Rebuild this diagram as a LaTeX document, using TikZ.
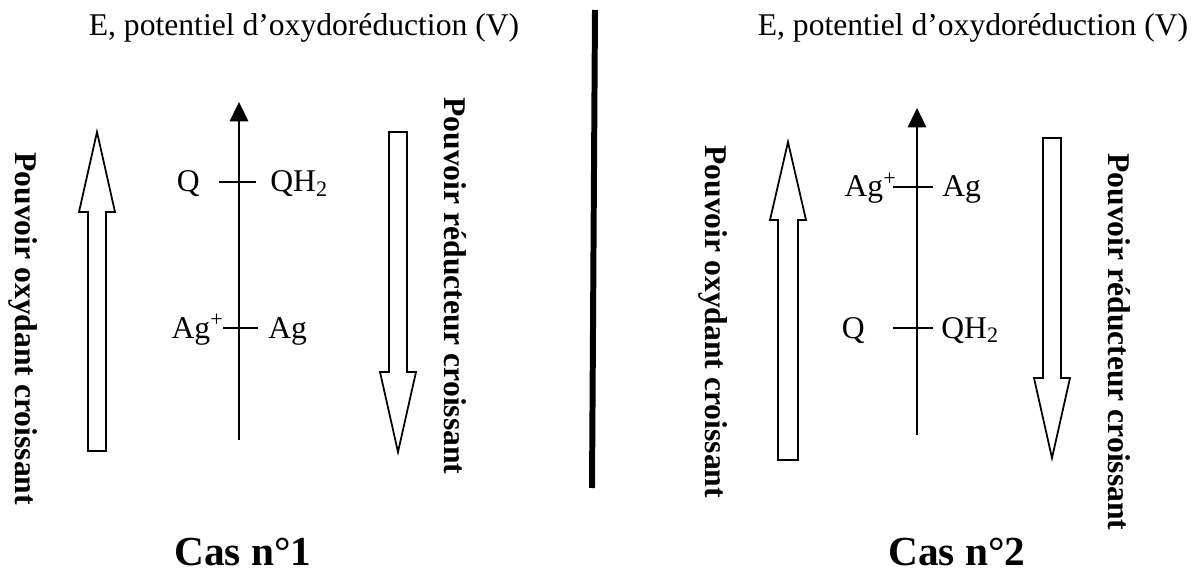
\documentclass[tikz,border=0pt]{standalone}
\usepackage{fontspec}
\setmainfont{Liberation Serif}
\usepackage{tikz}
\usetikzlibrary{arrows.meta}

% hollow arrow: centre x, half shaft, tip y, head base y, tail y
\newcommand{\hollowarrow}[5]{%
  \draw[hollow] (#1-#2,#5) -- (#1-#2,#4) -- (#1-18,#4) -- (#1,#3)
    -- (#1+18,#4) -- (#1+#2,#4) -- (#1+#2,#5) -- cycle;}

\begin{document}
\begin{tikzpicture}[x=0.02cm,y=-0.02cm,font=\fontsize{18}{20}\selectfont,
  axis/.style={line width=1.1pt,-{Triangle[length=11pt,width=10.5pt]}},
  tick/.style={line width=0.9pt},
  hollow/.style={line width=1pt,fill=white},
  couple/.style={inner sep=0pt},
  power/.style={rotate=-90,anchor=west,inner sep=0pt,font=\fontsize{18}{20}\selectfont\bfseries},
  case/.style={anchor=base,inner sep=0pt,font=\fontsize{23.5}{26}\selectfont\bfseries}]
\useasboundingbox (0,0) rectangle (1194,574);

% separation
\draw[line width=3.4pt] (595,10) -- (592,488);

% Cas 1
\node[anchor=base,inner sep=0pt] (titreA) at (304,36) {E, potentiel d’oxydoréduction (V)};
\coordinate (basA) at (239,440);
\coordinate (hautA) at (239,102);
\draw[axis] (basA) -- (hautA);
\draw[tick] (219,182) -- (256,182);
\draw[tick] (223,328) -- (258,328);
\node[couple,anchor=base east] (qA) at (200,192) {Q};
\node[couple,anchor=base west] (qhA) at (270,192) {QH\textsubscript{2}};
\node[couple,anchor=base east] (agpA) at (224,338) {Ag\textsuperscript{+}};
\node[couple,anchor=base west] (agA) at (268,338) {Ag};
\hollowarrow{97}{9}{132}{212}{451}
\hollowarrow{398}{9}{452}{372}{132}
\node[power] (oxA) at (23,152) {Pouvoir oxydant croissant};
\node[power] (redA) at (455,97) {Pouvoir réducteur croissant};
\node[case] (casA) at (243,565) {Cas n°1};

% Cas 2
\node[anchor=base,inner sep=0pt] (titreB) at (973,36) {E, potentiel d’oxydoréduction (V)};
\coordinate (basB) at (917,435);
\coordinate (hautB) at (917,108);
\draw[axis] (basB) -- (hautB);
\draw[tick] (893,187) -- (933,187);
\draw[tick] (893,328) -- (933,328);
\node[couple,anchor=base east] (agpB) at (897,197) {Ag\textsuperscript{+}};
\node[couple,anchor=base west] (agB) at (942,197) {Ag};
\node[couple,anchor=base east] (qB) at (865,338) {Q};
\node[couple,anchor=base west] (qhB) at (941,338) {QH\textsubscript{2}};
\hollowarrow{788}{10}{142}{220}{460}
\hollowarrow{1052}{9}{458}{378}{138}
\node[power] (oxB) at (713,145) {Pouvoir oxydant croissant};
\node[power] (redB) at (1119,153) {Pouvoir réducteur croissant};
\node[case] (casB) at (957,565) {Cas n°2};
\end{tikzpicture}
\end{document}
